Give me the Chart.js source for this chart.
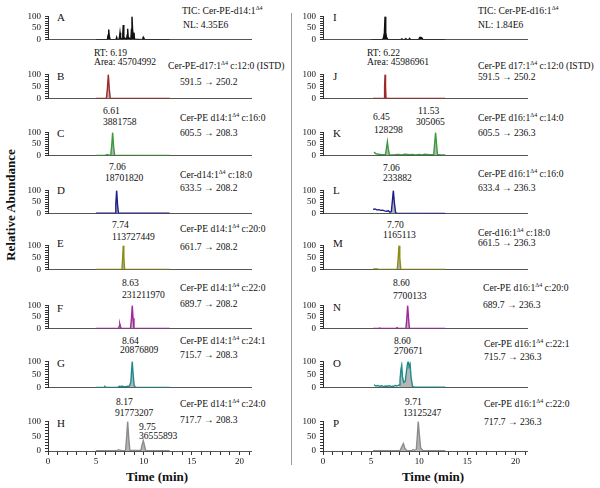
<!DOCTYPE html>
<html>
<head>
<meta charset="utf-8">
<script src="https://cdn.jsdelivr.net/npm/chart.js@4.4.1/dist/chart.umd.min.js"></script>
<style>
  body { margin: 0; background: #fff; width: 600px; height: 488px; position: relative; overflow: hidden;
         font-family: 'Liberation Serif', 'Times New Roman', serif; color: #111; }
  canvas { position: absolute; }
  .t { position: absolute; font-size: 9.6px; line-height: 1; white-space: nowrap; transform: translateY(-50%); }
  .t sup { font-size: 6px; vertical-align: 4px; line-height: 0; }
  .k { font-size: 11px; }
  .ax { position: absolute; font-size: 13px; font-weight: bold; white-space: nowrap; transform: translate(-50%, -50%); }
  .sep { position: absolute; left: 291px; top: 13px; width: 1px; height: 452px; background: #999; }
</style>
</head>
<body>

<div class="sep"></div>
<div class="ax" style="left:11px;top:205px;transform:translate(-50%,-50%) rotate(-90deg)">Relative Abundance</div>
<div class="ax" style="left:157px;top:477px">Time (min)</div>
<div class="ax" style="left:433px;top:477px">Time (min)</div>

<!-- colonne gauche -->
<div class="t k" style="left:57px;top:17px">A</div>
<div class="t" style="left:182px;top:11px">TIC: Cer-PE-d14:1<sup>Δ4</sup></div>
<div class="t" style="left:183px;top:25px">NL: 4.35E6</div>

<div class="t" style="left:94px;top:53px">RT: 6.19</div>
<div class="t" style="left:94px;top:62px">Area: 45704992</div>
<div class="t k" style="left:57px;top:76px">B</div>
<div class="t" style="left:168px;top:66px">Cer-PE-d17:1<sup>Δ4</sup> c:12:0 (ISTD)</div>
<div class="t" style="left:180px;top:82px">591.5 → 250.2</div>

<div class="t" style="left:103px;top:111px">6.61</div>
<div class="t" style="left:103px;top:122px">3881758</div>
<div class="t k" style="left:57px;top:133px">C</div>
<div class="t" style="left:180px;top:118px">Cer-PE d14:1<sup>Δ4</sup> c:16:0</div>
<div class="t" style="left:180px;top:133px">605.5 → 208.3</div>

<div class="t" style="left:109px;top:167px">7.06</div>
<div class="t" style="left:105px;top:178px">18701820</div>
<div class="t k" style="left:57px;top:190px">D</div>
<div class="t" style="left:180px;top:175px">Cer-d14:1<sup>Δ4</sup> c:18:0</div>
<div class="t" style="left:180px;top:188px">633.5 → 208.2</div>

<div class="t" style="left:112px;top:225px">7.74</div>
<div class="t" style="left:112px;top:237px">113727449</div>
<div class="t k" style="left:57px;top:243px">E</div>
<div class="t" style="left:180px;top:229px">Cer-PE d14:1<sup>Δ4</sup> c:20:0</div>
<div class="t" style="left:180px;top:247px">661.7 → 208.2</div>

<div class="t" style="left:122px;top:283px">8.63</div>
<div class="t" style="left:122px;top:295px">231211970</div>
<div class="t k" style="left:57px;top:308px">F</div>
<div class="t" style="left:180px;top:288px">Cer-PE d14:1<sup>Δ4</sup> c:22:0</div>
<div class="t" style="left:180px;top:304px">689.7 → 208.2</div>

<div class="t" style="left:122px;top:341px">8.64</div>
<div class="t" style="left:120px;top:350px">20876809</div>
<div class="t k" style="left:57px;top:363px">G</div>
<div class="t" style="left:180px;top:341px">Cer-PE d14:1<sup>Δ4</sup> c:24:1</div>
<div class="t" style="left:180px;top:355px">715.7 → 208.3</div>

<div class="t" style="left:116px;top:402px">8.17</div>
<div class="t" style="left:115px;top:413px">91773207</div>
<div class="t" style="left:139px;top:427px">9.75</div>
<div class="t" style="left:139px;top:436px">36555893</div>
<div class="t k" style="left:57px;top:423px">H</div>
<div class="t" style="left:180px;top:404px">Cer-PE d14:1<sup>Δ4</sup> c:24:0</div>
<div class="t" style="left:180px;top:420px">717.7 → 208.3</div>

<!-- colonne droite -->
<div class="t k" style="left:333px;top:17px">I</div>
<div class="t" style="left:478px;top:11px">TIC: Cer-PE-d16:1<sup>Δ4</sup></div>
<div class="t" style="left:478px;top:25px">NL: 1.84E6</div>

<div class="t" style="left:367px;top:53px">RT: 6.22</div>
<div class="t" style="left:367px;top:62px">Area: 45986961</div>
<div class="t k" style="left:333px;top:76px">J</div>
<div class="t" style="left:478px;top:66px">Cer-PE d17:1<sup>Δ4</sup> c:12:0 (ISTD)</div>
<div class="t" style="left:478px;top:77px">591.5 → 250.2</div>

<div class="t" style="left:373px;top:117px">6.45</div>
<div class="t" style="left:374px;top:130px">128298</div>
<div class="t" style="left:418px;top:111px">11.53</div>
<div class="t" style="left:416px;top:122px">305065</div>
<div class="t k" style="left:333px;top:133px">K</div>
<div class="t" style="left:478px;top:118px">Cer-PE d16:1<sup>Δ4</sup> c:14:0</div>
<div class="t" style="left:478px;top:133px">605.5 → 236.3</div>

<div class="t" style="left:383px;top:168px">7.06</div>
<div class="t" style="left:383px;top:178px">233882</div>
<div class="t k" style="left:333px;top:190px">L</div>
<div class="t" style="left:478px;top:174px">Cer-PE d16:1<sup>Δ4</sup> c:16:0</div>
<div class="t" style="left:478px;top:188px">633.4 → 236.3</div>

<div class="t" style="left:387px;top:225px">7.70</div>
<div class="t" style="left:383px;top:235px">1165113</div>
<div class="t k" style="left:333px;top:243px">M</div>
<div class="t" style="left:478px;top:233px">Cer-d16:1<sup>Δ4</sup> c:18:0</div>
<div class="t" style="left:478px;top:243px">661.5 → 236.3</div>

<div class="t" style="left:393px;top:283px">8.60</div>
<div class="t" style="left:393px;top:296px">7700133</div>
<div class="t k" style="left:333px;top:307px">N</div>
<div class="t" style="left:483px;top:288px">Cer-PE d16:1<sup>Δ4</sup> c:20:0</div>
<div class="t" style="left:483px;top:305px">689.7 → 236.3</div>

<div class="t" style="left:394px;top:341px">8.60</div>
<div class="t" style="left:394px;top:351px">270671</div>
<div class="t k" style="left:333px;top:363px">O</div>
<div class="t" style="left:484px;top:344px">Cer-PE d16:1<sup>Δ4</sup> c:22:1</div>
<div class="t" style="left:484px;top:357px">715.7 → 236.3</div>

<div class="t" style="left:405px;top:402px">9.71</div>
<div class="t" style="left:403px;top:413px">13125247</div>
<div class="t k" style="left:333px;top:423px">P</div>
<div class="t" style="left:484px;top:404px">Cer-PE d16:1<sup>Δ4</sup> c:22:0</div>
<div class="t" style="left:484px;top:422px">717.7 → 236.3</div>

<script>
// Chromatogrammes : temps (min) et abondance relative (%)

// ─── Colonne gauche (d14:1) ──────────────────────────────────────────────────
const tA = [5.0, 6.2, 6.28, 6.34, 6.4, 6.5, 7.1, 7.17, 7.24, 7.4, 7.47, 7.52, 7.58, 7.75, 7.81, 7.86, 7.92,
            8.2, 8.27, 8.32, 8.38, 8.65, 8.72, 8.77, 8.84, 8.93, 8.98, 9.04, 9.85, 9.91, 9.95, 10.0, 10.1, 12.7];
const vA = [0, 0, 20, 43, 15, 0, 0, 10, 0, 0, 12, 30, 8, 0, 25, 63, 10,
            0, 20, 47, 10, 0, 45, 100, 40, 5, 30, 2, 0, 6, 10, 6, 0, 0];

const tB = [5.0, 6.1, 6.2, 6.3, 6.4, 6.5, 12.7];
const vB = [1, 1, 40, 100, 40, 1, 1];
const wB = [[6.1, 6.5]];

const tC = [5.0, 5.9, 6.1, 6.2, 6.3, 6.55, 6.65, 6.75, 6.85, 6.95, 12.7];
const vC = [1, 1, 3, 5, 2, 2, 40, 100, 40, 2, 1];
const wC = [[6.55, 6.95]];

const tD = [5.0, 7.0, 7.08, 7.17, 7.26, 7.36, 12.7];
const vD = [2, 2, 40, 100, 40, 2, 2];
const wD = [[7.0, 7.36]];

const tE = [5.0, 7.72, 7.8, 7.86, 7.92, 8.0, 12.7];
const vE = [1, 1, 50, 100, 50, 1, 1];
const wE = [[7.72, 8.0]];

const tF = [5.0, 7.36, 7.44, 7.5, 7.56, 7.64, 8.62, 8.72, 8.8, 8.88, 8.98, 12.7];
const vF = [1, 1, 10, 20, 10, 1, 1, 45, 100, 45, 1, 1];
const wF = [[7.36, 7.64], [8.62, 8.98]];

const tG = [5.0, 5.85, 5.95, 6.05, 7.3, 7.45, 7.6, 7.75, 7.9, 8.2, 8.5, 8.65, 8.72, 8.8, 8.88, 9.0, 9.15, 12.7];
const vG = [1, 1, 4, 1, 1, 5, 4, 6, 3, 4, 6, 20, 60, 100, 55, 8, 1, 1];
const wG = [[8.5, 9.15]];

const tH = [5.0, 7.2, 7.35, 7.5, 7.65, 8.1, 8.22, 8.32, 8.42, 8.55, 9.7, 9.82, 9.95, 10.08, 10.2, 12.7];
const vH = [1, 1, 4, 3, 1, 2, 50, 100, 50, 2, 2, 20, 35, 18, 2, 1];
const wH = [[8.1, 8.55], [9.7, 10.2]];

// ─── Colonne droite (d16:1) ──────────────────────────────────────────────────
const tI = [5.0, 6.2, 6.3, 6.38, 6.45, 6.52, 6.6, 6.75, 8.1, 8.2, 8.3, 8.5, 8.6, 8.7, 8.9, 9.0, 9.1,
            9.95, 10.05, 10.15, 10.25, 10.4, 12.7];
const vI = [0, 0, 10, 30, 100, 30, 10, 0, 0, 3, 0, 0, 4, 0, 0, 5, 0, 0, 9, 9, 8, 0, 0];

const tJ = [5.2, 6.35, 6.4, 6.45, 6.5, 6.55, 12.7];
const vJ = [1, 1, 50, 100, 50, 1, 1];
const wJ = [[6.35, 6.55]];

const tK = [5.3, 5.5, 5.8, 6.2, 6.5, 6.6, 6.69, 6.78, 6.9, 7.3, 7.8, 8.2, 8.5, 9.0, 9.3, 9.6, 10.0, 10.3,
            10.6, 11.0, 11.5, 11.6, 11.7, 11.8, 11.9, 12.2, 12.7];
const vK = [15, 8, 6, 4, 5, 35, 60, 30, 4, 3, 5, 3, 6, 4, 5, 3, 5, 3, 6, 4, 5, 50, 100, 50, 5, 3, 3];
const wK = [[6.5, 6.9], [11.5, 11.9]];

const tL = [5.2, 5.4, 5.6, 5.8, 6.0, 6.2, 6.4, 6.6, 6.8, 6.95, 7.1, 7.2, 7.31, 7.42, 7.55, 7.7, 12.7];
const vL = [18, 20, 16, 17, 14, 15, 12, 10, 12, 6, 8, 50, 100, 45, 3, 2, 1];
const wL = [[7.1, 7.55]];

const tM = [5.2, 5.4, 5.6, 5.8, 7.72, 7.82, 7.9, 7.98, 8.08, 12.7];
const vM = [2, 3, 3, 1, 1, 50, 100, 50, 1, 1];
const wM = [[7.72, 8.08]];

const tN = [5.2, 5.8, 5.9, 6.0, 7.6, 7.7, 7.8, 8.62, 8.72, 8.8, 8.88, 8.98, 12.7];
const vN = [1, 1, 3, 1, 1, 4, 1, 1, 50, 100, 50, 1, 1];
const wN = [[8.62, 8.98]];

const tO = [5.3, 5.5, 5.7, 5.9, 6.1, 6.3, 6.5, 6.7, 6.9, 7.1, 7.3, 7.5, 7.7, 7.9, 8.0, 8.1, 8.18, 8.26,
            8.4, 8.55, 8.7, 8.8, 8.87, 8.95, 9.05, 9.15, 9.3, 9.5, 12.7];
const vO = [10, 6, 8, 5, 7, 4, 6, 5, 7, 4, 5, 8, 6, 10, 30, 70, 85, 40, 20, 25, 70, 95, 100, 80, 90, 40, 5, 2, 2];
const wO = [[7.9, 9.5]];

const tP = [5.2, 8.0, 8.2, 8.35, 8.5, 8.7, 9.2, 9.36, 9.5, 9.7, 9.8, 9.9, 10.0, 10.15, 10.4, 12.7];
const vP = [1, 1, 15, 25, 10, 1, 1, 5, 2, 5, 50, 100, 60, 10, 1, 1];
const wP = [[8.0, 8.7], [9.7, 10.4]];

const yTicks = [0, 50, 100];
const xTicks = [0, 5, 10, 15, 20];

// ─── Mise en page ────────────────────────────────────────────────────────────
const X_MAX = 21.2;
const TOPS  = [13, 71, 129, 187, 242, 302, 358, 418];
const ZEROS = [43, 102, 159, 217, 273, 332, 391, 451];
const FONT = { family: "'Liberation Serif', 'Times New Roman', serif", size: 9 };

const panels = [
  { col: 0, row: 0, t: tA, v: vA, w: [],  color: '#111111', tic: true },
  { col: 0, row: 1, t: tB, v: vB, w: wB, color: '#9e2a2a' },
  { col: 0, row: 2, t: tC, v: vC, w: wC, color: '#3c9a3c' },
  { col: 0, row: 3, t: tD, v: vD, w: wD, color: '#1e1e8c' },
  { col: 0, row: 4, t: tE, v: vE, w: wE, color: '#8c8c18' },
  { col: 0, row: 5, t: tF, v: vF, w: wF, color: '#a0289c' },
  { col: 0, row: 6, t: tG, v: vG, w: wG, color: '#1e8c8c' },
  { col: 0, row: 7, t: tH, v: vH, w: wH, color: '#8c8c8c' },
  { col: 1, row: 0, t: tI, v: vI, w: [],  color: '#111111', tic: true },
  { col: 1, row: 1, t: tJ, v: vJ, w: wJ, color: '#9e2a2a' },
  { col: 1, row: 2, t: tK, v: vK, w: wK, color: '#3c9a3c' },
  { col: 1, row: 3, t: tL, v: vL, w: wL, color: '#1e1e8c' },
  { col: 1, row: 4, t: tM, v: vM, w: wM, color: '#8c8c18' },
  { col: 1, row: 5, t: tN, v: vN, w: wN, color: '#a0289c' },
  { col: 1, row: 6, t: tO, v: vO, w: wO, color: '#1e8c8c' },
  { col: 1, row: 7, t: tP, v: vP, w: wP, color: '#8c8c8c' },
];

function drawPanel(p) {
  const last = p.row === 7;
  const xh = last ? 22 : 6;
  const top = TOPS[p.row], zero = ZEROS[p.row];
  const w = p.col ? 253 : 252;
  const h = 6 + (zero - top) + xh;

  const cv = document.createElement('canvas');
  cv.width = w; cv.height = h;
  cv.style.left = (p.col ? 275 : 0) + 'px';
  cv.style.top = (top - 6) + 'px';
  cv.style.width = w + 'px'; cv.style.height = h + 'px';
  document.body.appendChild(cv);

  const trace = p.t.map((x, i) => ({ x, y: p.v[i] }));
  // zone intégrée du pic : mêmes points, restreints aux fenêtres
  const shade = p.t.map((x, i) => ({
    x, y: p.w.some(([a, b]) => x >= a && x <= b) ? p.v[i] : null
  }));

  new Chart(cv, {
    type: 'line',
    data: {
      datasets: [
        { data: trace, borderColor: p.color, borderWidth: 1.4, pointRadius: 0, tension: 0,
          fill: p.tic ? 'origin' : false, backgroundColor: p.color, order: 0 },
        { data: shade, borderWidth: 0, pointRadius: 0, tension: 0, spanGaps: false,
          fill: 'origin', backgroundColor: 'rgba(168,168,168,0.85)', order: 1 },
      ]
    },
    options: {
      responsive: false,
      animation: false,
      devicePixelRatio: 1,
      events: [],
      layout: { padding: { top: 6, right: 1, left: 0, bottom: 0 } },
      plugins: { legend: { display: false }, tooltip: { enabled: false } },
      scales: {
        x: {
          type: 'linear', min: 0, max: X_MAX,
          afterFit: s => { s.height = xh; },
          border: { color: '#555', width: 1 },
          grid: { display: last, drawOnChartArea: false, tickLength: 4, color: '#333' },
          ticks: {
            display: last, stepSize: 1, autoSkip: false, includeBounds: false, maxRotation: 0,
            padding: 1, font: FONT, color: '#111',
            callback: v => xTicks.includes(v) ? String(v) : ''
          }
        },
        y: {
          min: 0, max: 100,
          afterFit: s => { s.width = 48; },
          border: { color: '#333', width: 1 },
          grid: { drawOnChartArea: false, tickLength: 3, color: '#333' },
          ticks: {
            stepSize: 10, autoSkip: false, includeBounds: false, padding: 4, font: FONT, color: '#111',
            callback: v => yTicks.includes(v) ? String(v) : ''
          }
        }
      }
    }
  });
}

panels.forEach(drawPanel);
</script>
</body>
</html>
